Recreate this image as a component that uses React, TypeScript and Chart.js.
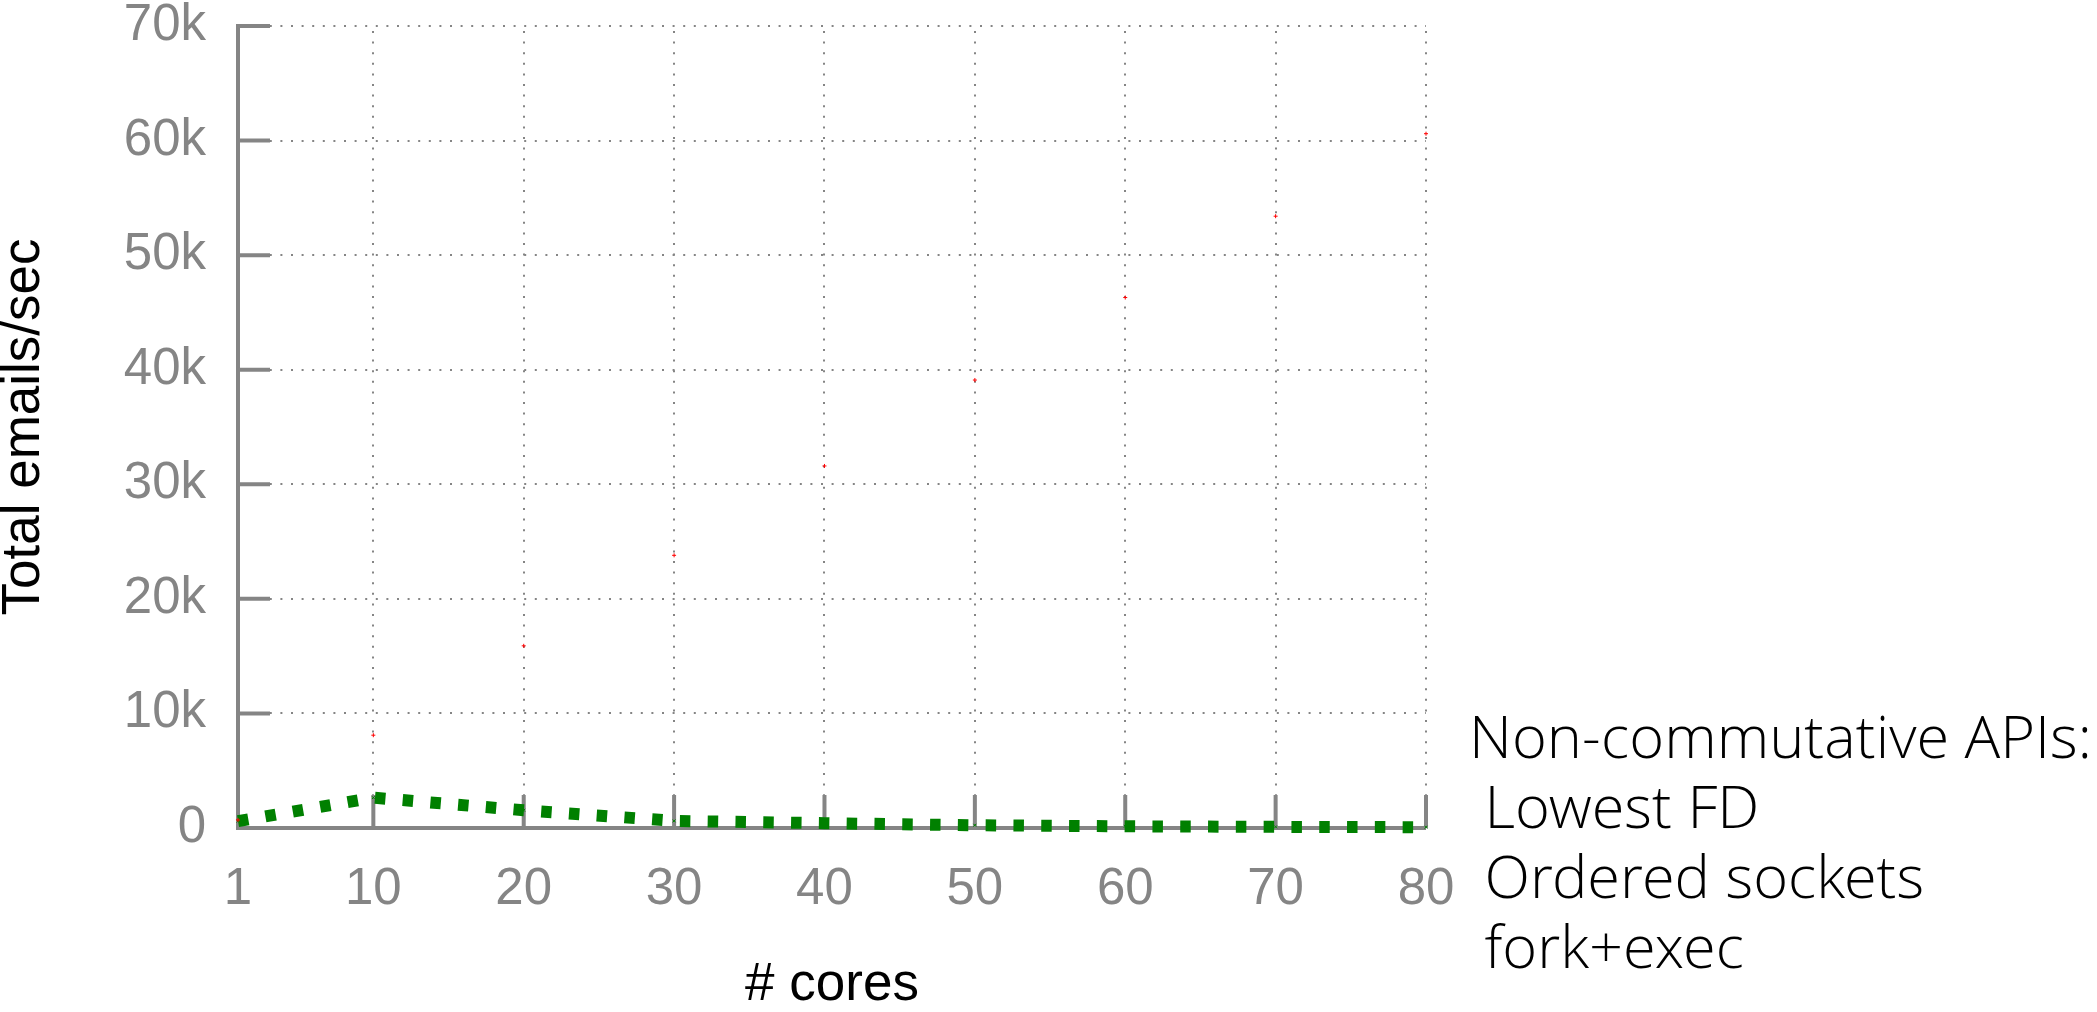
import React, { useEffect, useRef } from "react";
import { Chart, registerables } from "chart.js";

Chart.register(...registerables);

// ---- data ----
const cores = [1, 10, 20, 30, 40, 50, 60, 70, 80];
const nonCommutativeEmails = [600, 2650, 1550, 620, 420, 240, 150, 100, 70];
const commutativeEmails = [700, 8100, 15900, 23800, 31600, 39100, 46300, 53400, 60600];
const xTickValues = [1, 10, 20, 30, 40, 50, 60, 70, 80];
const yTickValues = [0, 10000, 20000, 30000, 40000, 50000, 60000, 70000];
const yTickLabels = ["0", "10k", "20k", "30k", "40k", "50k", "60k", "70k"];
const xTitle = "# cores";
const yTitle = "Total emails/sec";
const annotationLines = ["Non-commutative APIs:", " Lowest FD", " Ordered sockets", " fork+exec"];

const GRAY = "#858585";
const GREEN = "#008000";
const TICK_FONT = "'Liberation Sans', Arial, Helvetica, sans-serif";

const framePlugin = {
  id: "gnuplotFrame",
  beforeDatasetsDraw(chart: any) {
    const { ctx, chartArea } = chart;
    const x = chart.scales.x;
    const y = chart.scales.y;
    const { left, right, top, bottom } = chartArea;
    ctx.save();
    // dotted grid
    ctx.strokeStyle = GRAY;
    ctx.lineWidth = 2;
    ctx.setLineDash([2, 8.6]);
    for (const v of yTickValues) {
      if (v === yTickValues[0]) continue;
      const py = Math.round(y.getPixelForValue(v));
      ctx.beginPath();
      ctx.moveTo(left, py);
      ctx.lineTo(right, py);
      ctx.stroke();
    }
    for (const v of xTickValues) {
      if (v === xTickValues[0]) continue;
      const px = Math.round(x.getPixelForValue(v));
      ctx.beginPath();
      ctx.moveTo(px, bottom);
      ctx.lineTo(px, top);
      ctx.stroke();
    }
    // axes (left + bottom border)
    ctx.setLineDash([]);
    ctx.lineWidth = 4;
    ctx.lineCap = "butt";
    ctx.beginPath();
    ctx.moveTo(left, top - 2);
    ctx.lineTo(left, bottom + 2);
    ctx.moveTo(left - 2, bottom);
    ctx.lineTo(right, bottom);
    ctx.stroke();
    // inward tick marks
    ctx.beginPath();
    for (const v of yTickValues) {
      const py = y.getPixelForValue(v);
      ctx.moveTo(left, py);
      ctx.lineTo(left + 32, py);
    }
    for (const v of xTickValues) {
      const px = x.getPixelForValue(v);
      ctx.moveTo(px, bottom);
      ctx.lineTo(px, bottom - 33);
    }
    ctx.stroke();
    ctx.restore();
  },
};

export default function App() {
  const canvasRef = useRef<HTMLCanvasElement>(null);

  useEffect(() => {
    const canvas = canvasRef.current;
    if (!canvas) return;
    const chart = new Chart(canvas, {
      type: "line",
      data: {
        datasets: [
          {
            label: "Non-commutative APIs",
            data: cores.map((c, i) => ({ x: c, y: nonCommutativeEmails[i] })),
            borderColor: GREEN,
            backgroundColor: GREEN,
            borderWidth: 12,
            borderDash: [10.5, 17.3],
            borderCapStyle: "butt",
            tension: 0,
            fill: false,
            clip: false,
            pointStyle: "crossRot",
            pointRadius: 2,
            pointBorderWidth: 1,
            pointBorderColor: GREEN,
            order: 1,
          },
          {
            label: "Commutative APIs",
            data: cores.map((c, i) => ({ x: c, y: commutativeEmails[i] })),
            showLine: false,
            borderColor: "#ff0000",
            backgroundColor: "#ff0000",
            pointStyle: "cross",
            pointRadius: 2,
            pointBorderWidth: 1,
            clip: false,
            order: 0,
          },
        ],
      },
      options: {
        animation: false,
        responsive: false,
        maintainAspectRatio: false,
        events: [],
        layout: { padding: { top: 26, right: 671, bottom: 0, left: 0 } },
        plugins: {
          legend: { display: false },
          tooltip: { enabled: false },
          title: { display: false },
        },
        scales: {
          x: {
            type: "linear",
            min: 1,
            max: 80,
            grid: { display: false, drawTicks: false },
            border: { display: false },
            afterBuildTicks: (s: any) => {
              s.ticks = xTickValues.map((v) => ({ value: v }));
            },
            ticks: {
              color: GRAY,
              font: { family: TICK_FONT, size: 51 },
              padding: 31,
              maxRotation: 0,
              minRotation: 0,
              autoSkip: false,
              callback: (v: any) => String(v),
            },
            title: {
              display: true,
              text: xTitle,
              color: "#000",
              font: { family: TICK_FONT, size: 53, lineHeight: 1 },
              padding: { top: 0, bottom: 0 },
            },
            afterFit: (s: any) => {
              s.height = 184;
              s.paddingLeft = 0;
              s.paddingRight = 0;
            },
          },
          y: {
            type: "linear",
            min: 0,
            max: 70000,
            grid: { display: false, drawTicks: false },
            border: { display: false },
            afterBuildTicks: (s: any) => {
              s.ticks = yTickValues.map((v) => ({ value: v }));
            },
            ticks: {
              color: GRAY,
              font: { family: TICK_FONT, size: 51 },
              padding: 32,
              autoSkip: false,
              callback: (v: any) => {
                const i = yTickValues.indexOf(Number(v));
                return i >= 0 ? yTickLabels[i] : "";
              },
            },
            title: {
              display: true,
              text: yTitle,
              color: "#000",
              font: { family: TICK_FONT, size: 53, lineHeight: 1 },
              padding: { top: -2, bottom: 0 },
            },
            afterFit: (s: any) => {
              s.width = 238;
              s.paddingTop = 0;
              s.paddingBottom = 0;
            },
          },
        },
      } as any,
      plugins: [framePlugin],
    });
    return () => chart.destroy();
  }, []);

  return (
    <div
      style={{
        position: "absolute",
        left: 0,
        top: 0,
        width: 2097,
        height: 1012,
        background: "#fff",
        overflow: "hidden",
      }}
    >
      <canvas
        ref={canvasRef}
        width={2097}
        height={1012}
        style={{ display: "block", width: 2097, height: 1012 }}
      />
      <div
        style={{
          position: "absolute",
          left: 1469,
          top: 700,
          fontFamily: "'Open Sans Light', 'Open Sans', sans-serif",
          fontWeight: 300,
          fontSize: 59.5,
          lineHeight: "70px",
          whiteSpace: "pre",
          color: "#000",
        }}
      >
        {annotationLines.join("\n")}
      </div>
    </div>
  );
}
